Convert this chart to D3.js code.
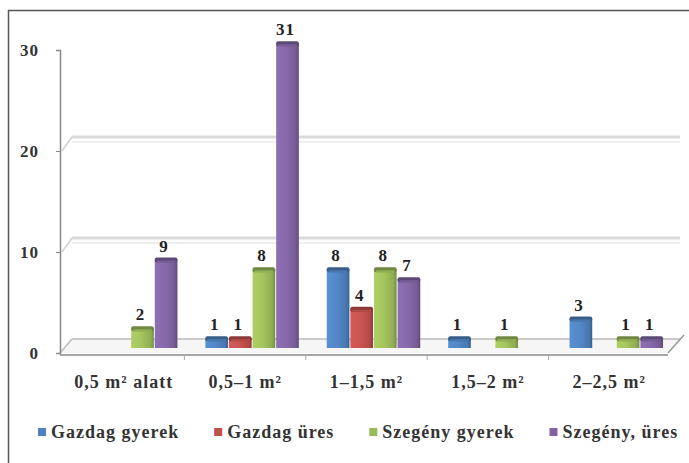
<!DOCTYPE html>
<html><head><meta charset="utf-8">
<script src="https://cdn.jsdelivr.net/npm/d3@7"></script>
<style>body{margin:0;background:#fff}svg{display:block}</style>
</head><body>
<svg id="chart" width="689" height="463"></svg>
<script>
const categories = ["0,5 m² alatt", "0,5–1 m²", "1–1,5 m²", "1,5–2 m²", "2–2,5 m²"];
const seriesNames = ["Gazdag gyerek", "Gazdag üres", "Szegény gyerek", "Szegény, üres"];
const gazdagGyerek = [null, 1, 8, 1, 3];
const gazdagUres = [null, 1, 4, null, null];
const szegenyGyerek = [2, 8, 8, 1, 1];
const szegenyUres = [9, 31, 7, null, 1];
const yTicks = [0, 10, 20, 30];
const colors = ["#4F81BD", "#C0504D", "#9BBB59", "#8064A2"];

const seriesValues = [gazdagGyerek, gazdagUres, szegenyGyerek, szegenyUres];
const svg = d3.select("#chart");
const serif = '"Liberation Serif"';

svg.append("rect").attr("x", 8.5).attr("y", 10.5).attr("width", 700).attr("height", 500)
  .attr("fill", "#fff").attr("stroke", "#555").attr("stroke-width", 1.5);

const yAxisScale = d3.scaleLinear().domain([0, 30]).range([353, 50]);
const yBar = d3.scaleLinear().domain([0, 30]).range([348, 53]);
const x0 = d3.scaleBand().domain(categories).range([70, 677]).paddingInner(0.23).paddingOuter(0.115);
const x1 = d3.scaleBand().domain(seriesNames).range([0, x0.bandwidth()]).paddingInner(0.04);
const xLabel = d3.scaleBand().domain(categories).range([63, 670]);

const depthX = 12, depthY = 14;
const leftX = 60, rightX = 668;

const defs = svg.append("defs");
colors.forEach((c, i) => {
  const g = defs.append("linearGradient").attr("id", "g" + i).attr("x1", "0").attr("x2", "1").attr("y1", "0").attr("y2", "0");
  const base = d3.color(c);
  g.append("stop").attr("offset", "0%").attr("stop-color", base.brighter(0.3));
  g.append("stop").attr("offset", "45%").attr("stop-color", base.brighter(0.15));
  g.append("stop").attr("offset", "85%").attr("stop-color", base.darker(0.2));
  g.append("stop").attr("offset", "100%").attr("stop-color", base.darker(0.8));
});

const grid = svg.append("g");
[10, 20].forEach(t => {
  const yy = yAxisScale(t);
  grid.append("line").attr("x1", leftX + depthX).attr("x2", rightX + depthX)
    .attr("y1", yy - depthY).attr("y2", yy - depthY).attr("stroke", "#dadada").attr("stroke-width", 3);
  grid.append("line").attr("x1", leftX + depthX).attr("x2", rightX + depthX)
    .attr("y1", yy - depthY + 5).attr("y2", yy - depthY + 5).attr("stroke", "#eeeeee").attr("stroke-width", 2);
  grid.append("line").attr("x1", leftX + 2).attr("x2", leftX + depthX)
    .attr("y1", yy).attr("y2", yy - depthY).attr("stroke", "#d0d0d0").attr("stroke-width", 1.5);
});
const y0 = yAxisScale(0);
grid.append("polygon")
  .attr("points", [[leftX, y0], [rightX, y0], [rightX + depthX, y0 - depthY], [leftX + depthX, y0 - depthY]].map(p => p.join(",")).join(" "))
  .attr("fill", "#f6f6f6").attr("stroke", "none");
grid.append("line").attr("x1", leftX + depthX).attr("x2", rightX + depthX)
  .attr("y1", y0 - depthY).attr("y2", y0 - depthY).attr("stroke", "#bbb").attr("stroke-width", 1.5);
grid.append("line").attr("x1", rightX).attr("x2", rightX + depthX + 4)
  .attr("y1", y0).attr("y2", y0 - depthY - 4).attr("stroke", "#999").attr("stroke-width", 1.5);
grid.append("line").attr("x1", leftX).attr("x2", leftX + depthX)
  .attr("y1", y0).attr("y2", y0 - depthY).attr("stroke", "#bbb").attr("stroke-width", 1.5);

const bars = svg.append("g");
categories.forEach((cat, ci) => {
  seriesNames.forEach((s, si) => {
    const v = seriesValues[si][ci];
    if (v == null) return;
    const bx = x0(cat) + x1(s);
    const w = x1.bandwidth();
    const top = yBar(v), base = yBar(0);
    const col = d3.color(colors[si]);
    bars.append("rect").attr("x", bx).attr("y", top).attr("width", w).attr("height", base - top)
      .attr("fill", `url(#g${si})`);
    bars.append("rect").attr("x", bx).attr("y", top - 2).attr("width", w).attr("height", 5)
      .attr("rx", 2).attr("fill", col.darker(0.9));
    bars.append("rect").attr("x", bx + 2).attr("y", top + 1).attr("width", w - 4).attr("height", 2)
      .attr("fill", col.brighter(0.2)).attr("opacity", 0.6);
    bars.append("text").attr("x", bx + w / 2 - 2).attr("y", top - 8)
      .attr("text-anchor", "middle").style("font-family", serif).attr("font-weight", "bold")
      .attr("font-size", 17).style("letter-spacing", "1px").attr("fill", "#222").text(v);
  });
});

const yAxis = svg.append("g").attr("transform", `translate(${leftX},0)`)
  .call(d3.axisLeft(yAxisScale).tickValues(yTicks).tickSize(4).tickPadding(17));
yAxis.attr("font-family", null);
yAxis.select(".domain").attr("stroke", "#888").attr("stroke-width", 1.5);
yAxis.selectAll(".tick line").attr("stroke", "#888");
yAxis.selectAll(".tick text").style("font-family", serif).attr("font-weight", "bold")
  .attr("font-size", 17).style("letter-spacing", "1px").attr("fill", "#333");

const xAxis = svg.append("g").attr("transform", `translate(0,${y0 + 2})`)
  .call(d3.axisBottom(xLabel).tickSize(0).tickPadding(20));
xAxis.attr("font-family", null);
xAxis.select(".domain").remove();
xAxis.selectAll(".tick text").style("font-family", serif).attr("font-weight", "bold")
  .attr("font-size", 18).style("letter-spacing", "1px").attr("fill", "#333");
svg.append("line").attr("x1", leftX).attr("x2", rightX).attr("y1", y0 + 2).attr("y2", y0 + 2)
  .attr("stroke", "#888").attr("stroke-width", 1.5);
svg.append("g").selectAll("line").data(categories.slice(1)).join("line")
  .attr("x1", d => xLabel(d)).attr("x2", d => xLabel(d))
  .attr("y1", y0 + 2).attr("y2", y0 + 7).attr("stroke", "#aaa");

const legend = svg.append("g").attr("transform", "translate(0,432)");
let lx = 38;
seriesNames.forEach((s, i) => {
  legend.append("rect").attr("x", lx).attr("y", -4).attr("width", 8).attr("height", 8).attr("fill", colors[i]);
  const t = legend.append("text").attr("x", lx + 13).attr("y", 6).style("font-family", serif).attr("font-weight", "bold")
    .attr("font-size", 18).style("letter-spacing", "1px").attr("fill", "#333").text(s);
  lx = lx + 13 + t.node().getComputedTextLength() + 35;
});
</script>
</body></html>
